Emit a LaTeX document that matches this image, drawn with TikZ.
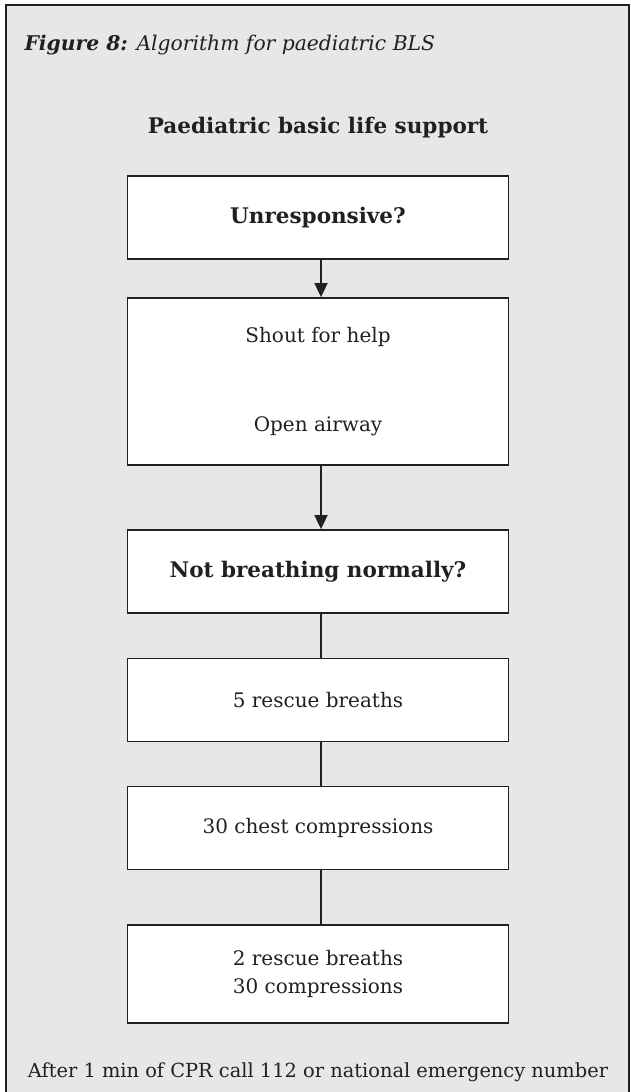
\documentclass[tikz,border=0pt]{standalone}
\usepackage{fontspec}
\setmainfont{DejaVu Serif}
\usepackage{xcolor}
\usetikzlibrary{arrows.meta}
\definecolor{panelgray}{HTML}{E6E7E8}
\definecolor{inkblack}{HTML}{231F20}

\begin{document}
\begin{tikzpicture}[x=1pt, y=-1pt,
		stepbox/.style={draw=inkblack, fill=white, line width=1.8pt, minimum width=381pt, minimum height=83pt, inner sep=0pt, align=center, text=inkblack, font=\fontsize{20}{28}\selectfont},
		askbox/.style={stepbox, font=\bfseries\fontsize{21.5}{28}\selectfont},
		flow/.style={draw=inkblack, line width=1.8pt},
		pointer/.style={flow, -{Triangle[length=14pt, width=13pt]}}]
		\useasboundingbox (0,0) rectangle (630,1092);
		% panel
		\filldraw[fill=panelgray, draw=inkblack, line width=2pt] (6,5) rectangle (629,1110);
		% headings
		\node[anchor=base west, text=inkblack, font=\fontsize{20.3}{24}\selectfont] (fig) at (21,50) {\textbf{\textit{Figure 8:}} \textit{Algorithm for paediatric BLS}};
		\node[text=inkblack, font=\bfseries\fontsize{21.5}{26}\selectfont] (title) at (318,128) {Paediatric basic life support};
		% steps
		\node[askbox] (unresp) at (318,217.5) {Unresponsive?};
		\node[stepbox, minimum height=167pt] (help) at (318,381.5) {Shout for help\\[61pt]Open airway};
		\node[askbox] (notbreath) at (318,571.5) {Not breathing normally?};
		\node[stepbox] (rescue) at (318,700) {5 rescue breaths};
		\node[stepbox] (chest) at (318,828) {30 chest compressions};
		\node[stepbox, minimum height=98pt] (cycle) at (318,974) {2 rescue breaths\\30 compressions};
		% connectors
		\draw[pointer] ([xshift=3pt]unresp.south) -- ([xshift=3pt]help.north);
		\draw[pointer] ([xshift=3pt]help.south) -- ([xshift=3pt]notbreath.north);
		\draw[flow] ([xshift=3pt]notbreath.south) -- ([xshift=3pt]rescue.north);
		\draw[flow] ([xshift=3pt]rescue.south) -- ([xshift=3pt]chest.north);
		\draw[flow] ([xshift=3pt]chest.south) -- ([xshift=3pt]cycle.north);
		% footer
		\node[text=inkblack, font=\fontsize{19.4}{24}\selectfont] (footer) at (318,1072) {After 1 min of CPR call 112 or national emergency number};
	\end{tikzpicture}
\end{document}
